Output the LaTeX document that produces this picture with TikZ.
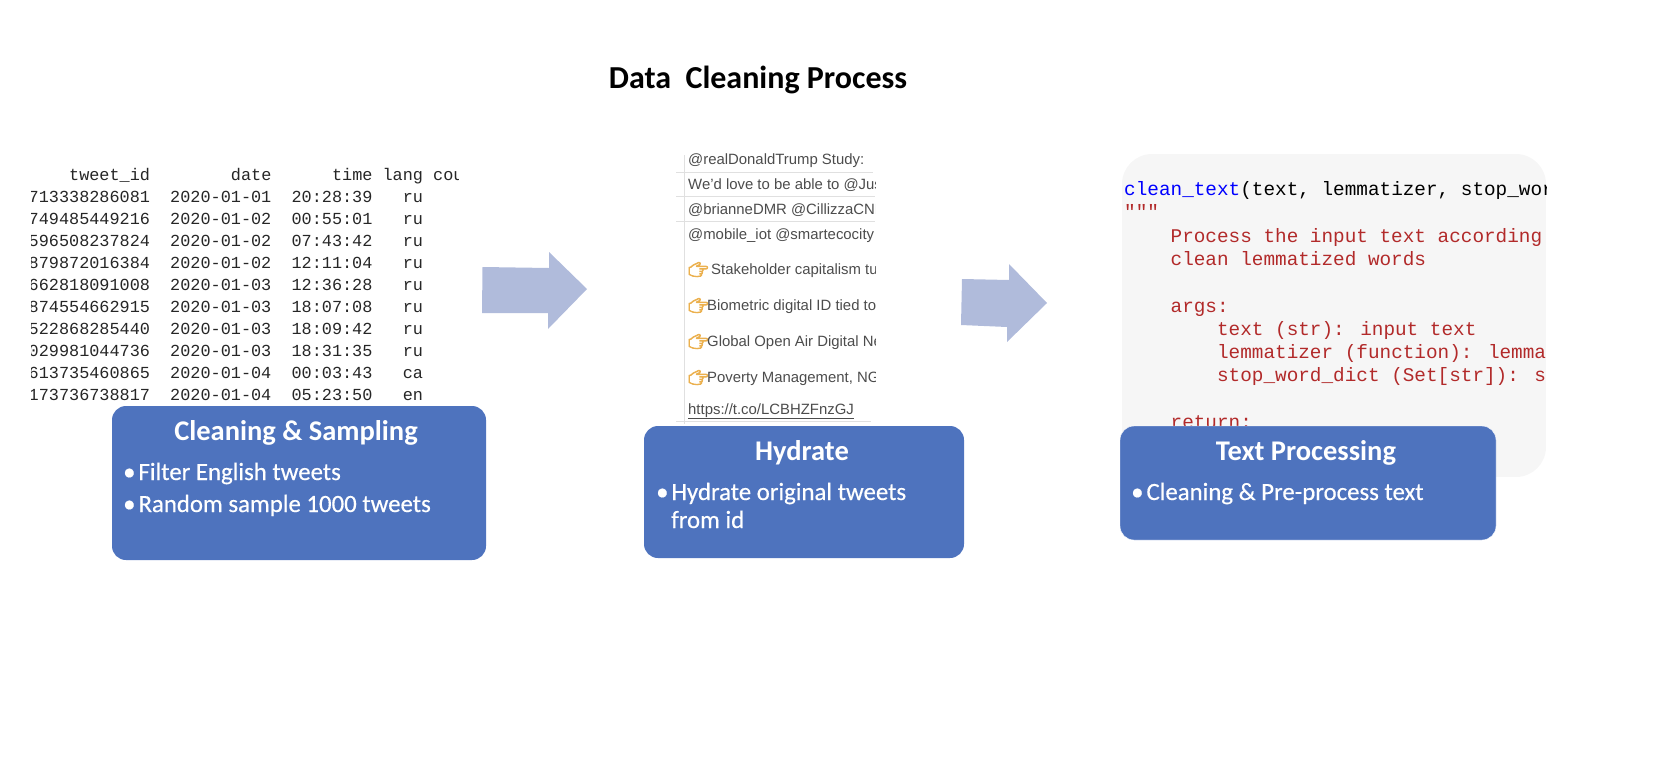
\documentclass[tikz,border=0pt]{standalone}
\usepackage{fontspec}
\setmainfont{Carlito}
\newfontfamily\itemfont[FakeBold=0.5]{Carlito}
\newfontfamily\tablefont{Liberation Mono}
\newfontfamily\tweetfont{Liberation Sans}
\newfontfamily\emojifont[FakeBold=5]{Noto Emoji}
\usepackage{tikz}
\usetikzlibrary{positioning}
\definecolor{boxblue}{HTML}{4E73BE}
\definecolor{arrowblue}{HTML}{B0BBDB}
\definecolor{codegray}{HTML}{F6F6F6}
\definecolor{docred}{HTML}{B22A2A}
\definecolor{handorange}{HTML}{EBB04E}
\tikzset{
  heading/.style={inner sep=0pt, font=\fontsize{32}{35}\selectfont\bfseries},
  panel/.style={fill=boxblue, rounded corners=14pt},
  paneltitle/.style={inner sep=0pt, text=white, font=\fontsize{28.5}{32}\selectfont\bfseries},
  panelitem/.style={inner sep=0pt, anchor=base west, text=white, font=\fontsize{24.8}{28}\selectfont\itemfont},
  tablerow/.style={inner sep=0pt, anchor=base west, text=black!85, font=\fontsize{16.85}{20}\selectfont\tablefont},
  coderow/.style={inner sep=0pt, anchor=base west, font=\fontsize{19.35}{23}\selectfont\tablefont},
  docrow/.style={coderow, text=docred},
  tweetrow/.style={inner sep=0pt, anchor=base west, text=black!70, font=\fontsize{14.9}{18}\selectfont\tweetfont},
  handmark/.style={inner sep=0pt, anchor=base west, text=handorange, font=\fontsize{16}{20}\selectfont\emojifont},
  tweetline/.style={draw=black!12, line width=1pt},
  blockarrow/.style={fill=arrowblue}
}
\begin{document}
\begin{tikzpicture}[x=1pt,y=-1pt]
\useasboundingbox (0,0) rectangle (1674,766);

% Heading
\node[heading] (title) at (758,80) {Data\ \ Cleaning Process};

% Left table
\begin{scope}
\clip (31,160) rectangle (458,412);
\node[tablerow] (rowh) at (28.5,180) {~~~~tweet\_id~~~~~~~~date~~~~~~time~lang~cou};
\node[tablerow] (row1) at (28.5,202) {713338286081~~2020-01-01~~20:28:39~~~ru};
\node[tablerow] (row2) at (28.5,224) {749485449216~~2020-01-02~~00:55:01~~~ru};
\node[tablerow] (row3) at (28.5,246) {596508237824~~2020-01-02~~07:43:42~~~ru};
\node[tablerow] (row4) at (28.5,268) {879872016384~~2020-01-02~~12:11:04~~~ru};
\node[tablerow] (row5) at (28.5,290) {662818091008~~2020-01-03~~12:36:28~~~ru};
\node[tablerow] (row6) at (28.5,312) {874554662915~~2020-01-03~~18:07:08~~~ru};
\node[tablerow] (row7) at (28.5,334) {522868285440~~2020-01-03~~18:09:42~~~ru};
\node[tablerow] (row8) at (28.5,356) {029981044736~~2020-01-03~~18:31:35~~~ru};
\node[tablerow] (row9) at (28.5,378) {613735460865~~2020-01-04~~00:03:43~~~ca};
\node[tablerow] (row10) at (28.5,400) {173736738817~~2020-01-04~~05:23:50~~~en};
\end{scope}

% Tweets list
\begin{scope}
\clip (670,153) rectangle (875,430);
\draw[tweetline] (684,155) -- (684,424);
\draw[tweetline] (676,172) -- (873,172);
\draw[tweetline] (676,196) -- (875,196);
\draw[tweetline] (676,221) -- (875,221);
\draw[tweetline] (676,421) -- (871,421);
\node[tweetrow] (tw1) at (688,164) {@realDonaldTrump Study:};
\node[tweetrow] (tw2) at (688,189) {We’d love to be able to @Just};
\node[tweetrow] (tw3) at (688,214) {@brianneDMR @CillizzaCNN};
\node[tweetrow] (tw4) at (688,239) {@mobile\_iot @smartecocity};
\node[handmark] (hand5) at (688,275) {\char"1F449};
\node[tweetrow] (tw5) at (711,274) {Stakeholder capitalism turns};
\node[handmark] (hand6) at (688,311) {\char"1F449};
\node[tweetrow] (tw6) at (707,310) {Biometric digital ID tied to};
\node[handmark] (hand7) at (688,347) {\char"1F449};
\node[tweetrow] (tw7) at (707,346) {Global Open Air Digital Net};
\node[handmark] (hand8) at (688,383) {\char"1F449};
\node[tweetrow] (tw8) at (707,382) {Poverty Management, NGO};
\node[tweetrow] (tw9) at (688,414) {\underline{https://t.co/LCBHZFnzGJ}};
\end{scope}

% Code pane
\begin{scope}
\clip[rounded corners=30pt] (1122,154) rectangle (1546,477);
\fill[codegray] (1122,154) rectangle (1546,477);
\node[coderow] (code1) at (1124,195) {\textcolor{blue}{clean\_text}(text, lemmatizer, stop\_word\_dict)};
\node[docrow] (code2) at (1124,218) {"""};
\node[docrow] (code3) at (1124,242) {~~~~Process the input text according to};
\node[docrow] (code4) at (1124,265) {~~~~clean lemmatized words};
\node[docrow] (code5) at (1124,312) {~~~~args:};
\node[docrow] (code6) at (1124,335) {~~~~~~~~text (str): input text};
\node[docrow] (code7) at (1124,358) {~~~~~~~~lemmatizer (function): lemmatizer};
\node[docrow] (code8) at (1124,381) {~~~~~~~~stop\_word\_dict (Set[str]): set};
\node[docrow] (code9) at (1124,428) {~~~~return:};
\end{scope}

% Arrows
\fill[blockarrow] (482.5,267) -- (549,268) -- (549,252) -- (587,289) -- (548,329) -- (548,313) -- (482,313) -- cycle;
\fill[blockarrow] (962,279) -- (1009,280) -- (1009,264) -- (1047,303) -- (1007,342) -- (1007,327) -- (961,325) -- cycle;

% Blue panels
\fill[panel] (112,406) rectangle (486,560);
\node[paneltitle] (clean) at (296,433) {Cleaning \& Sampling};
\node[panelitem] (clean1) at (123,480) {\textbullet\hspace{3pt}Filter English tweets};
\node[panelitem] (clean2) at (123,512) {\textbullet\hspace{3pt}Random sample 1000 tweets};

\fill[panel] (644,426) rectangle (964,558);
\node[paneltitle] (hydrate) at (802,453) {Hydrate};
\node[panelitem] (hydrate1) at (656,500) {\textbullet\hspace{3pt}Hydrate original tweets};
\node[panelitem] (hydrate2) at (671,528) {from id};

\filldraw[panel, draw=white] (1120,426) rectangle (1496,540);
\node[paneltitle] (textproc) at (1306,453) {Text Processing};
\node[panelitem] (textproc1) at (1131,500) {\textbullet\hspace{3pt}Cleaning \& Pre-process text};
\end{tikzpicture}
\end{document}
